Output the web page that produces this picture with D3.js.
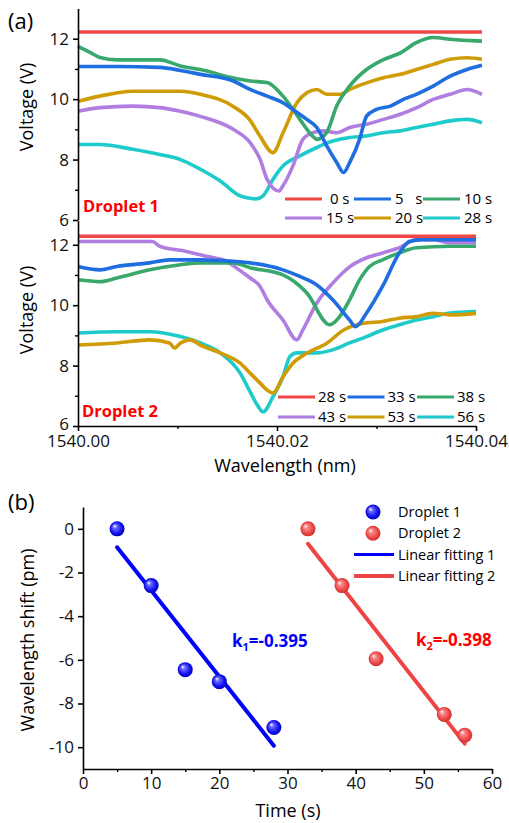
<!DOCTYPE html>
<html>
<head>
<meta charset="utf-8">
<script src="https://cdn.jsdelivr.net/npm/d3@7"></script>
<style>
    body { margin: 0; background: #fff; }
    text { font-family: 'Open Sans', sans-serif; }
</style>
</head>
<body>
<div class="canvas"></div>
<script>
// ---- data (a): wavelength offset in pm from 1540.00 nm, voltage in V ----
const labelsTop = ['\u00a00 s', '5\u00a0\u00a0\u00a0s', '10 s', '15 s', '20 s', '28 s'];
const labelsBottom = ['28 s', '33 s', '38 s', '43 s', '53 s', '56 s'];
const lineColours = ['#f04646', '#1f6ee0', '#38a86c', '#b07de0', '#cf9c05', '#1fcaca'];

const top0s = [[0, 12.22], [10, 12.22], [20, 12.22], [30, 12.22], [40.6, 12.22]];
const top5s = [[0, 11.08], [3.9, 11.08], [8.2, 11.05], [10.3, 10.95], [12.3, 10.82], [15.6, 10.6], [17.3, 10.32],
    [19.0, 10.1], [20.6, 9.88], [21.6, 9.66], [23.0, 9.33], [24.0, 9.06], [25.0, 8.45], [26.0, 7.9], [26.7, 7.57],
    [27.3, 7.9], [28.3, 8.67], [29.0, 9.44], [30.0, 9.66], [31.4, 9.77], [32.7, 9.99], [34.0, 10.16], [35.7, 10.43],
    [37.4, 10.76], [39.1, 10.98], [40.6, 11.12]];
const top10s = [[0, 11.75], [1.2, 11.55], [2.2, 11.38], [3.9, 11.3], [8.2, 11.3], [10.3, 11.1], [12.3, 10.98], [15.6, 10.7],
    [17.3, 10.6], [19.0, 10.55], [20.6, 10.1], [22.3, 9.33], [23.6, 8.77], [24.0, 8.67], [25.0, 8.9], [26.0, 9.77],
    [27.3, 10.43], [29.0, 10.98], [30.7, 11.31], [32.4, 11.53], [34.0, 11.87], [35.7, 12.04], [37.4, 11.98], [40.6, 11.92]];
const top15s = [[0, 9.6], [2.2, 9.72], [5.5, 9.77], [8.2, 9.72], [10.3, 9.6], [12.3, 9.43], [15.6, 9.0], [17.3, 8.56],
    [18.3, 8.01], [19.0, 7.35], [20.2, 6.96], [20.6, 7.13], [21.6, 7.79], [22.6, 8.67], [23.6, 8.89], [24.6, 8.95],
    [26.0, 8.89], [27.3, 9.06], [29.0, 9.17], [30.7, 9.33], [32.4, 9.5], [34.0, 9.71], [35.7, 9.99], [37.4, 10.16],
    [39.1, 10.32], [40.6, 10.16]];
const top20s = [[0, 9.93], [2.2, 10.1], [5.5, 10.26], [10.3, 10.26], [12.3, 10.16], [15.6, 9.76], [17.3, 9.3],
    [18.3, 8.77], [19.6, 8.23], [20.6, 8.88], [22.0, 9.88], [23.0, 10.21], [24.0, 10.32], [25.0, 10.16], [26.4, 10.16],
    [27.3, 10.32], [29.0, 10.54], [30.7, 10.71], [32.4, 10.82], [34.0, 10.98], [35.7, 11.15], [37.4, 11.32],
    [39.1, 11.37], [40.6, 11.32]];
const top28s = [[0, 8.5], [2.2, 8.5], [5.5, 8.34], [8.2, 8.17], [10.3, 8.0], [12.3, 7.68], [14.3, 7.29], [16.3, 6.8],
    [17.3, 6.72], [17.9, 6.7], [18.6, 6.8], [19.6, 7.35], [20.6, 7.79], [22.3, 8.12], [24.0, 8.4], [25.7, 8.62],
    [27.3, 8.73], [29.0, 8.78], [30.7, 8.89], [32.4, 8.95], [34.0, 9.06], [35.7, 9.17], [37.4, 9.28], [39.1, 9.33],
    [40.6, 9.22]];

const bot28s = [[0, 12.28], [10, 12.28], [20, 12.28], [30, 12.28], [40, 12.28]];
const bot33s = [[0, 11.28], [2.2, 11.17], [3.9, 11.28], [7.2, 11.4], [9.2, 11.5], [12.3, 11.5], [15.6, 11.45],
    [17.3, 11.4], [20.6, 11.17], [22.3, 10.95], [24.0, 10.67], [25.6, 10.18], [27.3, 9.51], [27.9, 9.29], [29.0, 9.74],
    [30.6, 10.62], [32.3, 11.73], [33.3, 12.11], [34.6, 12.17], [40, 12.17]];
const bot38s = [[0, 10.84], [2.2, 10.78], [3.9, 10.9], [7.2, 11.17], [10.3, 11.34], [12.3, 11.4], [15.6, 11.4],
    [17.3, 11.24], [20.6, 11.0], [23.0, 10.4], [25.3, 9.35], [26.3, 9.62], [27.3, 10.18], [28.3, 10.84], [29.3, 11.28],
    [30.6, 11.5], [32.3, 11.73], [34.0, 11.9], [37.4, 11.95], [40, 11.95]];
const bot43s = [[0, 12.11], [3.9, 12.11], [7.5, 12.11], [8.2, 11.95], [10.9, 11.78], [12.9, 11.62], [14.9, 11.45],
    [16.6, 11.07], [17.3, 10.9], [18.3, 10.62], [19.0, 10.18], [20.6, 9.51], [22.0, 8.85], [22.6, 9.18], [24.0, 10.07],
    [25.6, 10.73], [27.3, 11.27], [29.0, 11.57], [30.6, 11.73], [32.3, 11.9], [34.0, 12.17], [35.7, 12.17],
    [37.4, 12.07], [40, 12.07]];
const bot53s = [[0, 8.68], [3.9, 8.75], [7.2, 8.85], [9.2, 8.75], [9.7, 8.58], [10.3, 8.75], [11.3, 8.85], [12.3, 8.68],
    [14.3, 8.42], [16.3, 8.08], [17.3, 7.75], [18.3, 7.42], [19.0, 7.19], [19.6, 7.09], [20.6, 7.63], [21.6, 8.08],
    [23.0, 8.41], [25.0, 8.74], [26.7, 9.18], [28.7, 9.4], [30.6, 9.46], [32.3, 9.57], [34.0, 9.62], [35.7, 9.73],
    [37.4, 9.68], [40, 9.73]];
const bot56s = [[0, 9.08], [3.9, 9.12], [7.2, 9.12], [10.3, 8.96], [12.3, 8.75], [14.3, 8.42], [16.3, 7.75],
    [17.3, 7.13], [18.0, 6.7], [18.6, 6.47], [19.6, 6.97], [20.6, 7.63], [21.3, 8.3], [22.0, 8.42], [24.0, 8.42],
    [25.6, 8.52], [27.3, 8.75], [29.0, 8.96], [30.6, 9.18], [32.3, 9.35], [34.0, 9.51], [35.7, 9.62], [37.4, 9.74],
    [40, 9.79]];

const topSeries = [top0s, top5s, top10s, top15s, top20s, top28s];
const bottomSeries = [bot28s, bot33s, bot38s, bot43s, bot53s, bot56s];

// ---- data (b) ----
const time1 = [5, 10, 15, 20, 28];
const shift1 = [0, -2.6, -6.45, -7.0, -9.1];
const time2 = [33, 38, 43, 53, 56];
const shift2 = [0, -2.6, -5.95, -8.5, -9.45];
const fitSlope = [-0.395, -0.398];
const fitIntercept = [1.13, 12.45];
const fitRange = [[5, 28], [33, 56]];

const svg = d3.select('.canvas')
    .append('svg')
    .attr('width', 509)
    .attr('height', 823);

const styleAxis = (g, fs) => {
    g.select('.domain').attr('stroke', '#000').attr('stroke-width', 1.6);
    g.selectAll('.tick line').attr('stroke', '#000').attr('stroke-width', 1.6);
    g.selectAll('.tick text').attr('font-size', fs).attr('font-family', 'Open Sans').attr('fill', '#111');
};
const minorAxis = (g) => {
    g.select('.domain').remove();
    g.selectAll('.tick line').attr('stroke', '#000').attr('stroke-width', 1.4);
};

// ================= panel (a) =================
const x = d3.scaleLinear().domain([1540.00, 1540.04]).range([78, 476]);
const yTop = d3.scaleLinear().domain([6, 13]).range([220, 8.5]);
const yBot = d3.scaleLinear().domain([6, 12.8]).range([426, 220.6]);

const line = (y) => d3.line()
    .x(d => x(1540 + d[0] / 1000))
    .y(d => y(d[1]))
    .curve(d3.curveMonotoneX);

const drawCurves = (series, y) => {
    // draw in reverse so the first (flat red) trace sits on top
    svg.append('g').selectAll('path')
        .data(series.map((s, i) => ({ s, i })).reverse())
        .enter()
        .append('path')
        .attr('d', d => line(y)(d.s))
        .attr('fill', 'none')
        .attr('stroke', d => lineColours[d.i])
        .attr('stroke-width', 3.6)
        .attr('stroke-linejoin', 'round');
};
drawCurves(topSeries, yTop);
drawCurves(bottomSeries, yBot);

// axes
const fmtInt = d3.format('d');
svg.append('g').attr('transform', 'translate(78,0)')
    .call(d3.axisLeft(yTop).tickValues([6, 8, 10, 12]).tickSize(5).tickSizeOuter(0).tickPadding(4).tickFormat(fmtInt))
    .call(g => styleAxis(g, 17));
svg.append('g').attr('transform', 'translate(78,0)')
    .call(d3.axisLeft(yTop).tickValues([7, 9, 11]).tickSize(3).tickFormat(''))
    .call(minorAxis);
svg.append('g').attr('transform', 'translate(78,0)')
    .call(d3.axisLeft(yBot).tickValues([6, 8, 10, 12]).tickSize(5).tickSizeOuter(0).tickPadding(4).tickFormat(fmtInt))
    .call(g => styleAxis(g, 17))
    .call(g => g.selectAll('.tick text').filter(d => d === 6).attr('dy', '0.2em'));
svg.append('g').attr('transform', 'translate(78,0)')
    .call(d3.axisLeft(yBot).tickValues([7, 9, 11]).tickSize(3).tickFormat(''))
    .call(minorAxis);
svg.append('g').attr('transform', 'translate(0,426)')
    .call(d3.axisBottom(x).tickValues([1540.00, 1540.02, 1540.04]).tickSize(5).tickSizeOuter(0)
        .tickPadding(4).tickFormat(d3.format('.2f')))
    .call(g => styleAxis(g, 17));
svg.append('g').attr('transform', 'translate(0,426)')
    .call(d3.axisBottom(x).tickValues([1540.01, 1540.03]).tickSize(3).tickFormat(''))
    .call(minorAxis);

svg.append('text').attr('x', 8).attr('y', 29).attr('font-size', 22).text('(a)');
svg.append('text').attr('transform', 'translate(33,107) rotate(-90)')
    .attr('text-anchor', 'middle').attr('font-size', 18).text('Voltage (V)');
svg.append('text').attr('transform', 'translate(33,310) rotate(-90)')
    .attr('text-anchor', 'middle').attr('font-size', 18).text('Voltage (V)');
svg.append('text').attr('x', 285).attr('y', 472)
    .attr('text-anchor', 'middle').attr('font-size', 18).text('Wavelength (nm)');

svg.append('text').attr('x', 83).attr('y', 212).attr('font-size', 16.5)
    .attr('font-weight', 'bold').attr('fill', '#ff0000').text('Droplet 1');
svg.append('text').attr('x', 82).attr('y', 417).attr('font-size', 16.5)
    .attr('font-weight', 'bold').attr('fill', '#ff0000').text('Droplet 2');

// legends (a)
const drawLegend = (labels, x0, y0, colStep, rowStep, len, gap) => {
    const items = svg.append('g').selectAll('g')
        .data(labels)
        .enter()
        .append('g')
        .attr('transform', (d, i) => `translate(${x0 + (i % 3) * colStep}, ${y0 + Math.floor(i / 3) * rowStep})`);
    items.append('line')
        .attr('x1', 0).attr('x2', len)
        .attr('stroke', (d, i) => lineColours[i])
        .attr('stroke-width', 3);
    items.append('text')
        .attr('x', len + gap).attr('dy', '0.35em')
        .attr('font-size', 15)
        .text(d => d);
};
drawLegend(labelsTop, 285, 199, 69, 19, 37, 4);
drawLegend(labelsBottom, 278, 397, 69.5, 20, 37, 3);

// ================= panel (b) =================
const xb = d3.scaleLinear().domain([0, 60]).range([83, 492]);
const yb = d3.scaleLinear().domain([-11, 1]).range([769, 507]);

svg.append('g').attr('transform', 'translate(83,0)')
    .call(d3.axisLeft(yb).tickValues([-10, -8, -6, -4, -2, 0]).tickSize(5).tickSizeOuter(0)
        .tickPadding(4).tickFormat(d => String(d)))
    .call(g => styleAxis(g, 17));
svg.append('g').attr('transform', 'translate(0,769)')
    .call(d3.axisBottom(xb).tickValues(d3.range(0, 61, 10)).tickSize(5).tickSizeOuter(0).tickPadding(3))
    .call(g => styleAxis(g, 17));
svg.append('g').attr('transform', 'translate(0,769)')
    .call(d3.axisBottom(xb).tickValues(d3.range(5, 60, 10)).tickSize(3).tickFormat(''))
    .call(minorAxis);

svg.append('text').attr('x', 8).attr('y', 510).attr('font-size', 22).text('(b)');
svg.append('text').attr('transform', 'translate(34,640) rotate(-90)')
    .attr('text-anchor', 'middle').attr('font-size', 18).text('Wavelength shift (pm)');
svg.append('text').attr('x', 288).attr('y', 817)
    .attr('text-anchor', 'middle').attr('font-size', 18).text('Time (s)');

// sphere gradients
const defs = svg.append('defs');
const sphere = (id, light, mid, dark) => {
    const g = defs.append('radialGradient').attr('id', id)
        .attr('cx', '50%').attr('cy', '50%').attr('r', '55%')
        .attr('fx', '32%').attr('fy', '30%');
    g.append('stop').attr('offset', '0%').attr('stop-color', '#ffffff');
    g.append('stop').attr('offset', '25%').attr('stop-color', light);
    g.append('stop').attr('offset', '70%').attr('stop-color', mid);
    g.append('stop').attr('offset', '100%').attr('stop-color', dark);
};
sphere('ballBlue', '#6a6aff', '#1010f0', '#0000b0');
sphere('ballRed', '#f68a8a', '#ec4444', '#c42e2e');

const fitColours = ['#0000ff', '#ee4444'];
const balls = ['url(#ballBlue)', 'url(#ballRed)'];

// fit lines
fitRange.forEach((r, i) => {
    svg.append('line')
        .attr('x1', xb(r[0])).attr('y1', yb(fitSlope[i] * r[0] + fitIntercept[i]))
        .attr('x2', xb(r[1])).attr('y2', yb(fitSlope[i] * r[1] + fitIntercept[i]))
        .attr('stroke', fitColours[i])
        .attr('stroke-width', 4)
        .attr('stroke-linecap', 'round');
});

// points
[[time1, shift1], [time2, shift2]].forEach(([t, s], i) => {
    svg.append('g').selectAll('circle')
        .data(t.map((d, j) => [d, s[j]]))
        .enter()
        .append('circle')
        .attr('cx', d => xb(d[0]))
        .attr('cy', d => yb(d[1]))
        .attr('r', 7.5)
        .attr('fill', balls[i]);
});

// legend (b)
const legendB = ['Droplet 1', 'Droplet 2', 'Linear fitting 1', 'Linear fitting 2'];
const lg = svg.append('g').selectAll('g')
    .data(legendB)
    .enter()
    .append('g')
    .attr('transform', (d, i) => `translate(354, ${512 + i * 21.3})`);
lg.filter((d, i) => i < 2).append('circle')
    .attr('cx', 19).attr('r', 7.5)
    .attr('fill', (d, i) => balls[i]);
lg.filter((d, i) => i >= 2).append('line')
    .attr('x1', 0).attr('x2', 40)
    .attr('stroke', (d, i) => fitColours[i])
    .attr('stroke-width', (d, i) => i === 0 ? 3 : 4);
lg.append('text')
    .attr('x', 44).attr('dy', '0.35em')
    .attr('font-size', 14.5)
    .text(d => d);

// slopes
const kText = (xPos, yPos, colour, sub, val) => {
    const t = svg.append('text').attr('x', xPos).attr('y', yPos)
        .attr('font-size', 17).attr('font-weight', 'bold').attr('fill', colour);
    t.append('tspan').text('k');
    t.append('tspan').attr('font-size', 11).attr('dy', 4).text(sub);
    t.append('tspan').attr('dy', -4).text('=-' + val);
};
kText(232, 647, '#0000ff', '1', '0.395');
kText(416, 646, '#ff0000', '2', '0.398');
</script>
</body>
</html>
